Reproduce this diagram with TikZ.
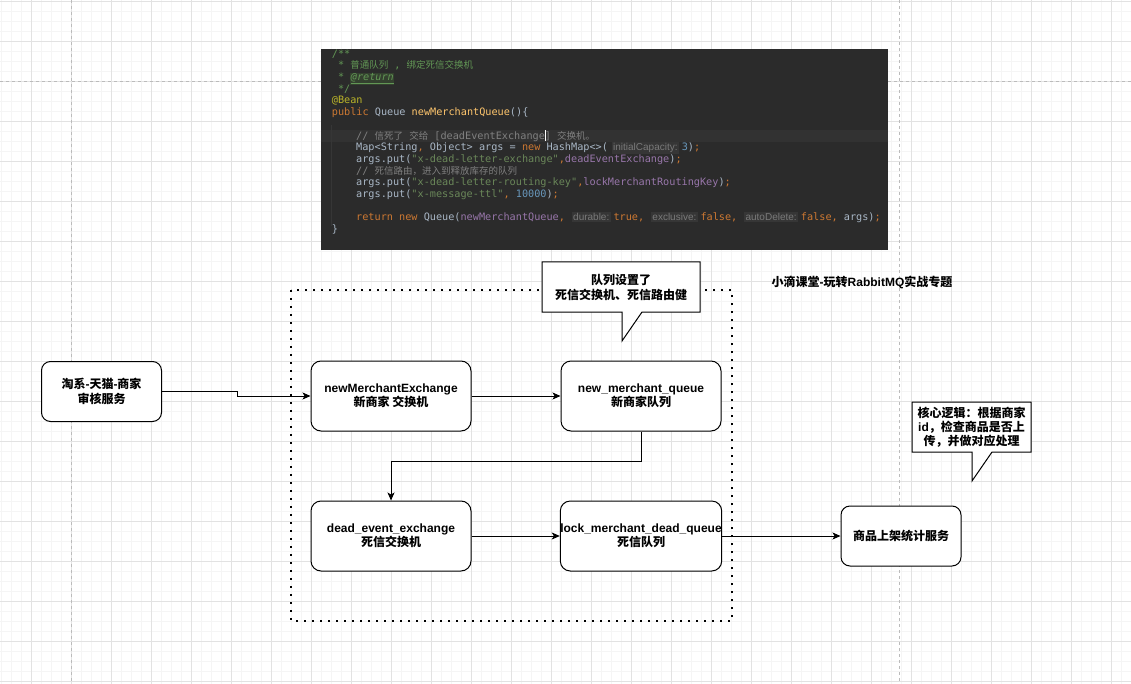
\documentclass[tikz,border=0pt]{standalone}
\usepackage{fontspec}
\setmainfont{Liberation Sans}
\setmonofont{DejaVu Sans Mono}
\newfontfamily\cjk{Noto Sans CJK SC}
\usetikzlibrary{arrows.meta}
\definecolor{gridminor}{HTML}{F5F5F5}
\definecolor{gridmajor}{HTML}{E2E2E2}
\definecolor{pagebrk}{HTML}{BBBBBB}
\definecolor{codebg}{HTML}{2B2B2B}
\definecolor{curline}{HTML}{323232}
\definecolor{cdef}{HTML}{A9B7C6}
\definecolor{ckw}{HTML}{CC7832}
\definecolor{cstr}{HTML}{6A8759}
\definecolor{cnum}{HTML}{6897BB}
\definecolor{ccom}{HTML}{808080}
\definecolor{cdoc}{HTML}{629755}
\definecolor{cann}{HTML}{BBB529}
\definecolor{cfun}{HTML}{FFC66D}
\definecolor{cfld}{HTML}{9876AA}
\definecolor{hbg}{HTML}{363636}
\definecolor{hfg}{HTML}{7A7A7A}
\definecolor{retbg}{HTML}{34412F}
\newcommand\zh[1]{{\cjk #1}}
\newcommand\zc[1]{{\cjk\fontsize{9.5}{11}\selectfont #1}}
\newcommand\hint[1]{\hspace{4pt}{\setlength{\fboxsep}{1.2pt}\colorbox{hbg}{\rmfamily\fontsize{10}{10}\selectfont\color{hfg}#1}}\hspace{3pt}}
\newcommand\kw[1]{\textcolor{ckw}{#1}}
\newcommand\df[1]{\textcolor{cdef}{#1}}
\tikzset{
  box/.style={draw=black, line width=1pt, fill=white, rounded corners=10pt,
    minimum width=160pt, minimum height=70pt, align=center, inner sep=0pt,
    font=\bfseries\fontsize{12}{14}\selectfont},
  sbox/.style={box, minimum width=120pt, minimum height=60pt, rounded corners=9pt},
  conn/.style={draw=black, line width=1pt, -{Stealth[length=8pt,width=7pt,inset=2pt]}},
  code/.style={anchor=mid west, inner sep=0pt, font=\ttfamily\fontsize{10.2}{11.7}\selectfont, text=cdef},
  lbl/.style={font=\bfseries\fontsize{12}{15}\selectfont, align=center, inner sep=0pt},
  callout/.style={draw=black, line width=1pt, fill=white}
}
\begin{document}
\begin{tikzpicture}[x=1pt,y=-1pt]
\useasboundingbox (0,0) rectangle (1131,684);
% grid
\foreach \x in {1,11,...,1131} \draw[gridminor, line width=0.8pt] (\x,0) -- (\x,684);
\foreach \y in {1,11,...,681} \draw[gridminor, line width=0.8pt] (0,\y) -- (1131,\y);
\foreach \x in {31,71,...,1111} \draw[gridmajor, line width=0.8pt] (\x,0) -- (\x,684);
\foreach \y in {1,41,...,681} \draw[gridmajor, line width=0.8pt] (0,\y) -- (1131,\y);
\draw[pagebrk, line width=0.8pt, dash pattern=on 3pt off 3pt] (71,0) -- (71,684);
\draw[pagebrk, line width=0.8pt, dash pattern=on 3pt off 3pt] (899,0) -- (899,684);
\draw[pagebrk, line width=0.8pt, dash pattern=on 3pt off 3pt] (0,81) -- (1131,81);

% code screenshot
\fill[codebg] (321,49) rectangle (888,250);
\fill[curline] (321,130.5) rectangle (888,142.3);
\draw[hbg, line width=0.6pt] (331.5,125) -- (331.5,226);
\node[code] (l0) at (331.7,54.5) {\textcolor{cdoc}{/**}};
\node[code] (l1) at (337.8,66.2) {\textcolor{cdoc}{* \zc{普通队列} , \zc{绑定死信交换机}}};
\node[code] (l2) at (337.8,77.9) {\textcolor{cdoc}{* {\setlength{\fboxsep}{0.6pt}\colorbox{retbg}{\itshape\underline{@return}}}}};
\node[code] (l3) at (337.8,89.6) {\textcolor{cdoc}{*/}};
\node[code] (l4) at (331.7,101.3) {\textcolor{cann}{@Bean}};
\node[code] (l5) at (331.7,113) {\kw{public} \df{Queue} \textcolor{cfun}{newMerchantQueue}\df{()\{}};
\node[code] (l7) at (356,136.4) {\textcolor{ccom}{// \zc{信死了} \zc{交给} [deadEventExchange\rlap{\color{white}\rule[-2pt]{1.4pt}{11pt}}] \zc{交换机。}}};
\node[code] (l8) at (356,148.1) {\df{Map<String}\kw{,} \df{Object> args = }\kw{new} \df{HashMap<>(}\hint{initialCapacity:}\textcolor{cnum}{3}\df{)}\kw{;}};
\node[code] (l9) at (356,159.8) {\df{args.put(}\textcolor{cstr}{"x-dead-letter-exchange"}\kw{,}\textcolor{cfld}{deadEventExchange}\df{)}\kw{;}};
\node[code] (l10) at (356,171.5) {\textcolor{ccom}{// \zc{死信路由，进入到释放库存的队列}}};
\node[code] (l11) at (356,183.2) {\df{args.put(}\textcolor{cstr}{"x-dead-letter-routing-key"}\kw{,}\textcolor{cfld}{lockMerchantRoutingKey}\df{)}\kw{;}};
\node[code] (l12) at (356,194.9) {\df{args.put(}\textcolor{cstr}{"x-message-ttl"}\kw{,} \textcolor{cnum}{10000}\df{)}\kw{;}};
\node[code] (l14) at (356,218.3) {\kw{return new} \df{Queue(}\textcolor{cfld}{newMerchantQueue}\kw{,}\hspace{3pt}\hint{durable:}\kw{true,}\hspace{3pt}\hint{exclusive:}\kw{false,}\hspace{3pt}\hint{autoDelete:}\kw{false,} \df{args)}\kw{;}};
\node[code] (l15) at (331.7,230) {\df{\}}};

% dotted group frame
\draw[black, line width=2pt, dash pattern=on 2pt off 6pt] (291,290) rectangle (732,621);

% title
\node[lbl] (title) at (862,282) {\zh{小滴课堂}-\zh{玩转}RabbitMQ\zh{实战专题}};

% callout 1
\draw[callout] (542,262) -- (700,262) -- (700,312) -- (642,312) -- (622,341) -- (622,312) -- (542,312) -- cycle;
\node[lbl] (c1) at (621,287) {\zh{队列设置了}\\\zh{死信交换机、死信路由健}};

% callout 2
\draw[callout] (912,402) -- (1031,402) -- (1031,452) -- (992,452) -- (972,481) -- (972,452) -- (912,452) -- cycle;
\node[lbl, font=\bfseries\fontsize{12}{14}\selectfont] (c2) at (971.5,427) {\zh{核心逻辑：根据商家}\\id\zh{，检查商品是否上}\\\zh{传，并做对应处理}};

% nodes
\node[sbox, font=\bfseries\fontsize{12}{15}\selectfont] (taoxi) at (101.5,391.5) {\zh{淘系}-\zh{天猫}-\zh{商家}\\\zh{审核服务}};
\node[box] (ex) at (391,396) {newMerchantExchange\\\zh{新商家 交换机}};
\node[box] (q) at (641,396) {new\_merchant\_queue\\\zh{新商家队列}};
\node[box] (dead) at (391,536) {dead\_event\_exchange\\\zh{死信交换机}};
\node[box] (lock) at (641,536) {lock\_merchant\_dead\_queue\\\zh{死信队列}};
\node[sbox] (stat) at (901,536) {\zh{商品上架统计服务}};

% connectors
\draw[conn] (taoxi.east) -- (237,391.5) -- (237,396) -- (ex.west);
\draw[conn] (ex.east) -- (q.west);
\draw[conn] (q.south) -- ++(0,30) -| (dead.north);
\draw[conn] (dead.east) -- (lock.west);
\draw[conn] (lock.east) -- (stat.west);
\end{tikzpicture}
\end{document}
